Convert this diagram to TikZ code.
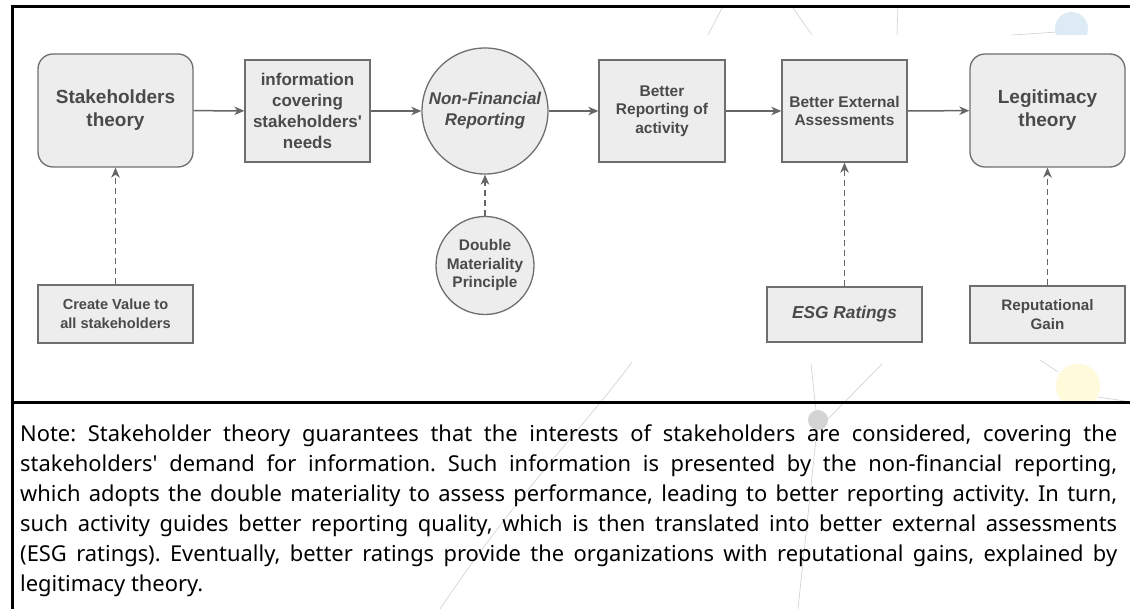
\documentclass[tikz,border=0pt]{standalone}
\usepackage{fontspec}
\usetikzlibrary{arrows.meta,shapes.geometric}
\newfontfamily\boxfont{Liberation Sans}
\newfontfamily\notefont{Noto Sans}
\definecolor{boxfill}{HTML}{EDEDED}
\definecolor{bordergray}{HTML}{6E6E6E}
\definecolor{textgray}{HTML}{4A4A4A}
\definecolor{arrowgray}{HTML}{666666}
\definecolor{faint}{HTML}{D4D4D4}
\definecolor{lightblue}{HTML}{DDEBF5}
\definecolor{lightyellow}{HTML}{FFFBDA}
\newcommand\noteline[1]{\hbox to 1097pt{#1}}
\tikzset{
  basebox/.style={draw=bordergray, fill=boxfill, line width=1.3pt, text=textgray, align=center, inner sep=0pt},
  sqbox/.style={basebox, rectangle},
  rndbox/.style={basebox, rectangle, rounded corners=15pt},
  circbox/.style={basebox, circle},
  flow/.style={draw=arrowgray, line width=1.5pt, -{Stealth[length=10pt,width=8.5pt,inset=3pt]}},
  dflow/.style={draw=arrowgray, line width=1.3pt, dash pattern=on 6pt off 4pt, -{Stealth[length=10pt,width=8.5pt,inset=3pt]}},
  faintline/.style={draw=faint, line width=0.7pt},
  frameline/.style={draw=black, line width=3pt}
}
\begin{document}
\begin{tikzpicture}[x=1pt,y=-1pt]
\useasboundingbox (0,0) rectangle (1130,609);
% faint background artefacts
\begin{scope}
  \clip (1040,0) rectangle (1100,35);
  \fill[lightblue] (1071.5,28.5) circle (16.5);
\end{scope}
\begin{scope}
  \clip (1040,364) rectangle (1110,401);
  \filldraw[fill=lightyellow, draw=lightyellow!80!orange!30] (1078,386) circle (22);
\end{scope}
\draw[faintline] (722,8) -- (708,35);
\draw[faintline] (793,8) -- (812,35);
\draw[faintline] (898,5) -- (897,35);
\draw[faintline] (1012,35) -- (1057,32);
\draw[faintline] (632,362) .. controls (590,420) and (520,490) .. (440,609);
\draw[faintline] (811,364) -- (817,420);
\draw[faintline] (882,364) -- (822,425);
\draw[faintline] (818,420) -- (798,609);
\draw[faintline] (1040,360) -- (1058,372);
\draw[faintline] (1098,397) -- (1125,401);
\fill[faint] (818,420) circle (10);
% frame
\draw[frameline] (11,6.5) -- (1131,6.5);
\draw[frameline] (12.5,5) -- (12.5,610);
\draw[frameline] (11,402.5) -- (1131,402.5);
% main row
\node[rndbox, minimum width=155pt, minimum height=113pt, font=\boxfont\bfseries\fontsize{19}{23}\selectfont] (st) at (115.5,110.5) {Stakeholders\\theory};
\node[sqbox, minimum width=125pt, minimum height=102pt, font=\boxfont\bfseries\fontsize{17}{20.8}\selectfont] (info) at (307.5,111) {information\\covering\\stakeholders'\\needs};
\node[circbox, minimum size=126pt, font=\boxfont\bfseries\itshape\fontsize{17}{21}\selectfont] (nfr) at (485,111) {Non-Financial\\Reporting};
\node[sqbox, minimum width=126pt, minimum height=102pt, font=\boxfont\bfseries\fontsize{15.5}{18.5}\selectfont] (brep) at (662,111) {Better\\Reporting of\\activity};
\node[sqbox, minimum width=125pt, minimum height=102pt, font=\boxfont\bfseries\fontsize{15.5}{18.5}\selectfont] (bext) at (844.5,111) {Better External\\Assessments};
\node[rndbox, minimum width=155pt, minimum height=113pt, font=\boxfont\bfseries\fontsize{19}{23}\selectfont] (leg) at (1047.5,110.5) {Legitimacy\\theory};
% lower row
\node[sqbox, minimum width=155pt, minimum height=58pt, font=\boxfont\bfseries\fontsize{14.6}{18.5}\selectfont] (cv) at (115.5,314) {Create Value to\\all stakeholders};
\node[circbox, minimum size=98pt, font=\boxfont\bfseries\fontsize{15.4}{18.5}\selectfont] (dm) at (485,265.5) {Double\\Materiality\\Principle};
\node[sqbox, minimum width=155pt, minimum height=55pt, font=\boxfont\bfseries\itshape\fontsize{17.3}{20}\selectfont] (esg) at (844.5,314.5) {ESG Ratings};
\node[sqbox, minimum width=155pt, minimum height=57pt, font=\boxfont\bfseries\fontsize{15.2}{18.5}\selectfont] (rep) at (1047.5,314.5) {Reputational\\Gain};
% connectors
\draw[flow] (st) -- (info);
\draw[flow] (info) -- (nfr);
\draw[flow] (nfr) -- (brep);
\draw[flow] (brep) -- (bext);
\draw[flow] (bext) -- (leg);
\draw[dflow] (cv) -- (st);
\draw[dflow] (dm) -- (nfr);
\draw[dflow] (esg) -- (bext);
\draw[dflow] (rep) -- (leg);
% note
\node[anchor=base west, inner sep=0pt, text=black,
      font=\notefont\fontsize{21.9}{30}\selectfont] (note) at (20,442) {%
\vtop{\frenchspacing\baselineskip=30pt
\noteline{Note: Stakeholder theory guarantees that the interests of stakeholders are considered, covering the}
\noteline{stakeholders' demand for information. Such information is presented by the non-financial reporting,}
\noteline{which adopts the double materiality to assess performance, leading to better reporting activity. In turn,}
\noteline{such activity guides better reporting quality, which is then translated into better external assessments}
\noteline{(ESG ratings). Eventually, better ratings provide the organizations with reputational gains, explained by}
\hbox{legitimacy theory.}}};
\end{tikzpicture}
\end{document}
